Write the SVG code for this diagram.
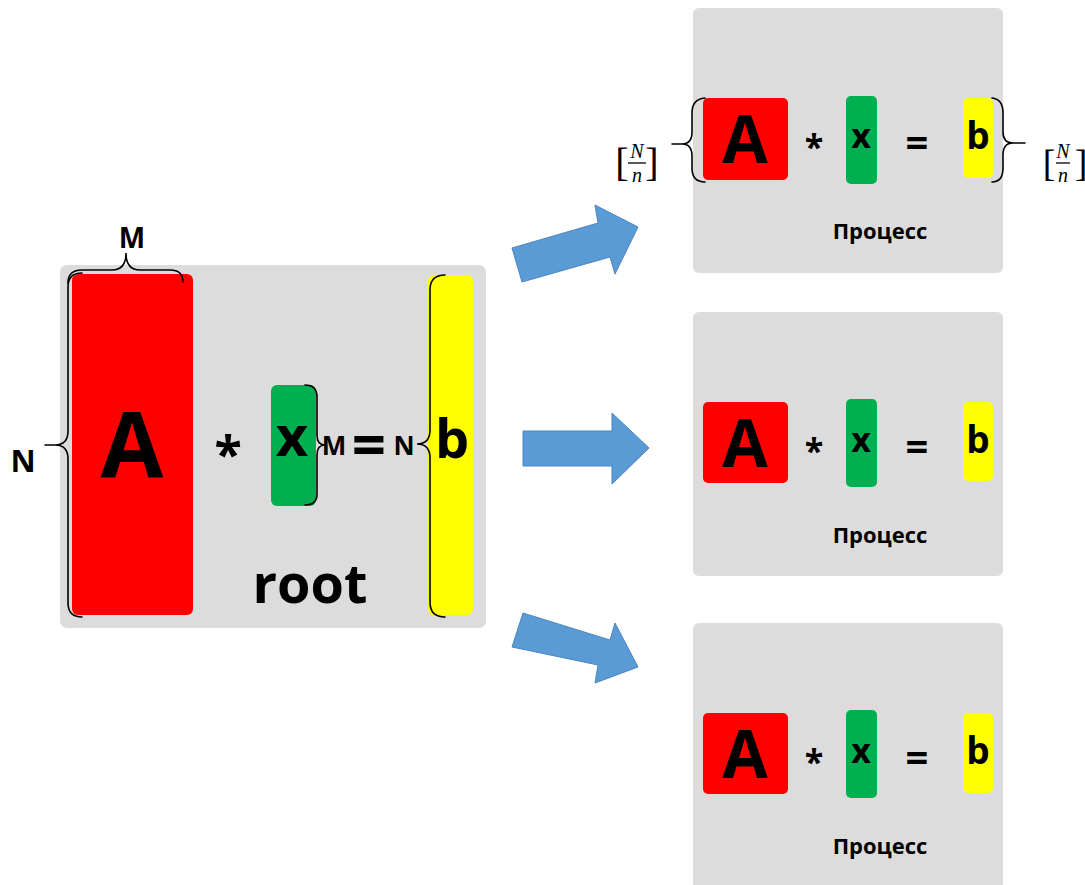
<svg xmlns="http://www.w3.org/2000/svg" width="1085" height="885" viewBox="0 0 1085 885">
<style>
.panel{fill:#dcdcdc}
.red{fill:#ff0000}
.green{fill:#00b050}
.yellow{fill:#ffff00}
.t{font-family:"Open Sans","Noto Sans","Liberation Sans",sans-serif;font-weight:bold;fill:#000;text-anchor:middle}
.brace{fill:none;stroke:#000;stroke-width:1.6;stroke-linecap:round}
.arrow{fill:#5b9bd5;stroke:#4a86bf;stroke-width:1}
.m{font-family:"Liberation Serif","DejaVu Serif",serif;fill:#000;text-anchor:middle}
.mi{font-style:italic}
</style>
<rect width="1085" height="885" fill="#fff"/>

<g id="root">
<rect class="panel" x="60" y="265" width="426" height="363" rx="7"/>
<rect class="red" x="72" y="274" width="121" height="341" rx="6"/>
<rect class="green" x="271" y="385" width="45" height="121" rx="6"/>
<rect class="yellow" x="428" y="275" width="45" height="340" rx="6"/>
<text class="t" x="132" y="478" font-size="91">A</text>
<text class="t" x="228" y="472" font-size="50">*</text>
<text class="t" x="292" y="456" font-size="56">x</text>
<text class="t" x="334" y="455" font-size="26">M</text>
<text class="t" x="369" y="466" font-size="60">=</text>
<text class="t" x="404" y="455" font-size="26">N</text>
<text class="t" x="452" y="458" font-size="54">b</text>
<text class="t" x="310" y="603" font-size="54">root</text>
<text class="t" x="132" y="248" font-size="28">M</text>
<text class="t" x="23" y="472" font-size="31">N</text>
<path class="brace" d="M82,273 Q68,273 68,287 L68,431 Q68,445 55,445 L45,445 M55,445 Q68,445 68,459 L68,603 Q68,617 82,617"/>
<path class="brace" d="M68,283 Q68,270 82,270 L112,270 Q126,270 126,253 Q126,270 140,270 L170,270 Q183,270 183,282"/>
<path class="brace" d="M305,385 Q317,385 317,397 L317,435 Q317,445 325,445 Q317,445 317,455 L317,494 Q317,505 305,505"/>
<path class="brace" d="M445,275 Q430,275 430,290 L430,430 Q430,444 417,444 Q430,444 430,458 L430,602 Q430,617 445,617"/>
</g>

<g id="connectors">
<polygon class="arrow" points="512,248 598,223 595,205 638,227 615,274 610,257 522,282"/>
<polygon class="arrow" points="523,431 612,431 612,413 649,448 612,484 612,466 523,466"/>
<polygon class="arrow" points="523,613 610,640 615,623 638,667 595,683 598,665 512,647"/>
</g>

<g id="proc1">
<rect class="panel" x="693" y="8" width="310" height="265" rx="6"/>
<rect class="red" x="703" y="98" width="85" height="82" rx="5"/>
<rect class="green" x="846" y="96" width="31" height="88" rx="5"/>
<rect class="yellow" x="963" y="98" width="30" height="80" rx="5"/>
<text class="t" x="745" y="163" font-size="66">A</text>
<text class="t" x="814" y="159" font-size="34">*</text>
<text class="t" x="861" y="148" font-size="34">x</text>
<text class="t" x="917" y="157" font-size="40">=</text>
<text class="t" x="978" y="149" font-size="37">b</text>
<text class="t" x="880" y="239" font-size="22">Процесс</text>
<path class="brace" d="M705,98 Q692,99 692,113 L692,132 Q692,144 682,144 L672,144 M682,144 Q692,144 692,156 L692,168 Q692,182 705,182"/>
<path class="brace" d="M992,98 Q1003,99 1003,113 L1003,132 Q1003,143 1013,143 L1025,143 M1013,143 Q1003,143 1003,155 L1003,168 Q1003,182 992,182"/>
<text class="m" x="622" y="176" font-size="40">[</text>
<text class="m mi" x="637" y="158" font-size="20">N</text>
<line x1="628" y1="163" x2="646" y2="163" stroke="#000" stroke-width="1.3"/>
<text class="m mi" x="637" y="182" font-size="20">n</text>
<text class="m" x="652" y="176" font-size="40">]</text>
<text class="m" x="1049" y="176" font-size="38">[</text>
<text class="m mi" x="1063" y="158" font-size="20">N</text>
<line x1="1056" y1="163" x2="1070" y2="163" stroke="#000" stroke-width="1.3"/>
<text class="m mi" x="1063" y="182" font-size="20">n</text>
<text class="m" x="1081" y="176" font-size="38" text-anchor="end">]</text>
</g>

<g id="proc2">
<rect class="panel" x="693" y="312" width="310" height="264" rx="6"/>
<rect class="red" x="703" y="402" width="85" height="81" rx="5"/>
<rect class="green" x="846" y="399" width="31" height="88" rx="5"/>
<rect class="yellow" x="963" y="402" width="30" height="79" rx="5"/>
<text class="t" x="745" y="467" font-size="66">A</text>
<text class="t" x="814" y="463" font-size="34">*</text>
<text class="t" x="861" y="452" font-size="34">x</text>
<text class="t" x="917" y="461" font-size="40">=</text>
<text class="t" x="978" y="453" font-size="37">b</text>
<text class="t" x="880" y="543" font-size="22">Процесс</text>
</g>

<g id="proc3">
<rect class="panel" x="693" y="623" width="310" height="275" rx="6"/>
<rect class="red" x="703" y="713" width="85" height="81" rx="5"/>
<rect class="green" x="846" y="710" width="31" height="88" rx="5"/>
<rect class="yellow" x="963" y="713" width="30" height="80" rx="5"/>
<text class="t" x="745" y="778" font-size="66">A</text>
<text class="t" x="814" y="774" font-size="34">*</text>
<text class="t" x="861" y="763" font-size="34">x</text>
<text class="t" x="917" y="772" font-size="40">=</text>
<text class="t" x="978" y="764" font-size="37">b</text>
<text class="t" x="880" y="854" font-size="22">Процесс</text>
</g>
</svg>
